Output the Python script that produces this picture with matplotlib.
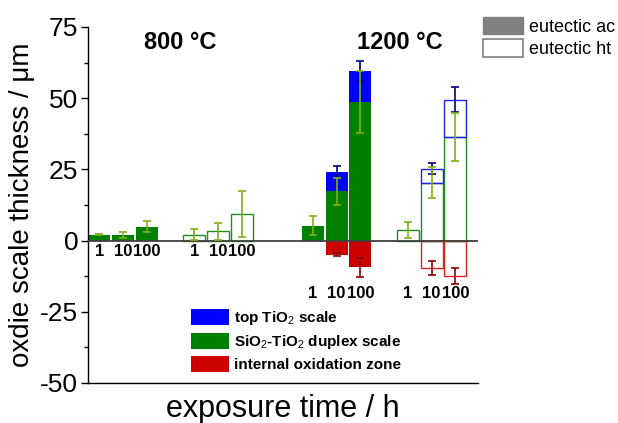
import matplotlib
matplotlib.use("Agg")
import matplotlib.pyplot as plt
from matplotlib.patches import Patch
from matplotlib.ticker import MultipleLocator
import numpy as np

plt.rcParams["font.family"] = ["Liberation Sans", "DejaVu Sans"]
plt.rcParams["mathtext.fontset"] = "custom"
plt.rcParams["mathtext.rm"] = "Liberation Sans"
plt.rcParams["mathtext.it"] = "Liberation Sans:italic"
plt.rcParams["mathtext.bf"] = "Liberation Sans:bold"
plt.rcParams["axes.unicode_minus"] = False

# exposure times (h)
hours = ["1", "10", "100"]
groups = ["800 ac", "800 ht", "1200 ac", "1200 ht"]
group_offsets = [0, 4, 9, 13]

# SiO2-TiO2 duplex scale thickness (um)
duplex_800_ac = [2.1, 1.9, 4.9]
duplex_800_ac_err = [0.3, 1.0, 2.0]
duplex_800_ht = [2.1, 3.2, 9.3]
duplex_800_ht_err = [2.0, 3.0, 8.0]
duplex_1200_ac = [5.3, 17.3, 48.7]
duplex_1200_ac_err = [3.3, 4.7, 10.9]
duplex_1200_ht = [3.8, 20.3, 36.4]
duplex_1200_ht_err = [2.9, 5.5, 8.3]

# top TiO2 scale thickness (um), stacked on the duplex scale
top_1200_ac = [0.0, 6.7, 10.9]
top_1200_ac_err = [0.0, 2.1, 3.5]
top_1200_ht = [0.0, 4.9, 13.1]
top_1200_ht_err = [0.0, 1.9, 4.3]

# internal oxidation zone depth (um), drawn downwards
ioz_1200_ac = [0.0, 4.9, 9.4]
ioz_1200_ac_err = [0.0, 0.6, 3.4]
ioz_1200_ht = [0.0, 9.6, 12.4]
ioz_1200_ht_err = [0.0, 2.4, 2.7]

BLUE = "#0000ff"
GREEN = "#008000"
RED = "#cc0000"
GREEN_EDGE = "#1e8c1e"
BLUE_EDGE = "#2222ee"
RED_EDGE = "#dd2020"
ERR_GREEN = "#7fb01a"
ERR_BLUE = "#000080"
ERR_RED = "#8b0000"

width = 0.93
capsize = 2.6
elw = 1.2


def positions(i):
    return np.arange(3) + group_offsets[i]


def draw_group(ax, x, duplex, duplex_err, top=None, top_err=None,
               ioz=None, ioz_err=None, hollow=False):
    duplex = np.array(duplex)
    if hollow:
        kw_g = dict(facecolor="none", edgecolor=GREEN_EDGE, linewidth=1.0)
        kw_b = dict(facecolor="none", edgecolor=BLUE_EDGE, linewidth=1.0)
        kw_r = dict(facecolor="none", edgecolor=RED_EDGE, linewidth=1.0)
    else:
        kw_g = dict(color=GREEN, linewidth=0)
        kw_b = dict(color=BLUE, linewidth=0)
        kw_r = dict(color=RED, linewidth=0)
    ax.bar(x, duplex, width, zorder=2, **kw_g)
    if top is not None:
        top = np.array(top)
        m = top > 0
        ax.bar(x[m], top[m], width, bottom=duplex[m], zorder=2, **kw_b)
        ax.errorbar(x[m], (duplex + top)[m], yerr=np.array(top_err)[m], fmt="none",
                    ecolor=ERR_BLUE, elinewidth=elw, capsize=capsize, capthick=elw, zorder=4)
    if ioz is not None:
        ioz = np.array(ioz)
        m = ioz > 0
        ax.bar(x[m], -ioz[m], width, zorder=2, **kw_r)
        ax.errorbar(x[m], -ioz[m], yerr=np.array(ioz_err)[m], fmt="none",
                    ecolor=ERR_RED, elinewidth=elw, capsize=capsize, capthick=elw, zorder=4)
    ax.errorbar(x, duplex, yerr=duplex_err, fmt="none", ecolor=ERR_GREEN,
                elinewidth=elw, capsize=capsize, capthick=elw, zorder=5)


fig = plt.figure(figsize=(6.18, 4.23), dpi=100)
ax = fig.add_axes([88 / 618, 40 / 423, 390 / 618, 356 / 423])

draw_group(ax, positions(0), duplex_800_ac, duplex_800_ac_err)
draw_group(ax, positions(1), duplex_800_ht, duplex_800_ht_err, hollow=True)
draw_group(ax, positions(2), duplex_1200_ac, duplex_1200_ac_err,
           top_1200_ac, top_1200_ac_err, ioz_1200_ac, ioz_1200_ac_err)
draw_group(ax, positions(3), duplex_1200_ht, duplex_1200_ht_err,
           top_1200_ht, top_1200_ht_err, ioz_1200_ht, ioz_1200_ht_err, hollow=True)

ax.axhline(0, color="#404040", linewidth=1.3, zorder=3)

# hour labels under each group
label_y = [-3.7, -3.7, -18.5, -18.5]
for i in range(4):
    for xx, h in zip(positions(i), hours):
        ax.text(xx, label_y[i], h, ha="center", va="center",
                fontsize=12, fontweight="bold")

ax.text(3.4, 69.4, "800 °C", ha="center", va="center", fontsize=17, fontweight="bold")
ax.text(12.65, 69.4, "1200 °C", ha="center", va="center", fontsize=17, fontweight="bold")

ax.set_xlim(-0.47, 15.95)
ax.set_ylim(-50, 75)
ax.yaxis.set_major_locator(MultipleLocator(25))
ax.yaxis.set_minor_locator(MultipleLocator(12.5))
ax.tick_params(axis="y", which="major", length=5, width=1, labelsize=19, pad=2)
ax.tick_params(axis="y", which="minor", length=3, width=1)
ax.set_xticks([])
for s in ["top", "right"]:
    ax.spines[s].set_visible(False)
ax.spines["left"].set_linewidth(1)
ax.spines["bottom"].set_linewidth(1)

ax.set_ylabel("oxdie scale thickness / μm", fontsize=20, labelpad=4)
ax.set_xlabel("exposure time / h", fontsize=22, labelpad=8)

# sample state legend
state_handles = [
    Patch(facecolor="#808080", edgecolor="#808080", label="eutectic ac"),
    Patch(facecolor="white", edgecolor="#808080", linewidth=1.2, label="eutectic ht"),
]
fig.legend(handles=state_handles, loc="upper left", bbox_to_anchor=(483 / 618, 1 - 17 / 423),
           bbox_transform=fig.transFigure, frameon=False, fontsize=13,
           borderpad=0, borderaxespad=0, handlelength=2.2, handleheight=1.1,
           labelspacing=0.2, handletextpad=0.35)

# layer legend
layer_handles = [
    Patch(facecolor=BLUE, label="top TiO$_2$ scale"),
    Patch(facecolor=GREEN, label="SiO$_2$-TiO$_2$ duplex scale"),
    Patch(facecolor=RED, label="internal oxidation zone"),
]
fig.legend(handles=layer_handles, loc="upper left", bbox_to_anchor=(191 / 618, 1 - 309 / 423),
           bbox_transform=fig.transFigure, frameon=False,
           prop={"size": 11, "weight": "bold"},
           borderpad=0, borderaxespad=0, handlelength=2.5, handleheight=1.25,
           labelspacing=0.35, handletextpad=0.3)

fig.savefig("out.png", dpi=100)
